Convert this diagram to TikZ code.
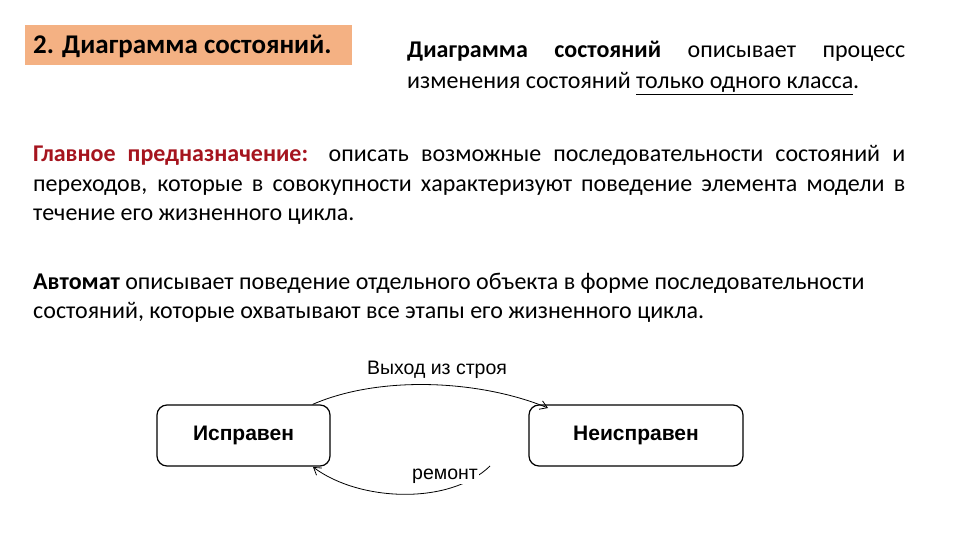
\documentclass[tikz,border=0pt]{standalone}
\usepackage{fontspec}
\setmainfont{Carlito}
\newfontfamily\arialf{Liberation Sans}
\usetikzlibrary{arrows.meta}
\definecolor{peach}{HTML}{F4B183}
\definecolor{dred}{HTML}{A5141E}
\begin{document}
\begin{tikzpicture}[x=1pt,y=-1pt,
  txt/.style={anchor=base west,inner sep=0pt,font=\fontsize{24}{29}\selectfont},
  state/.style={draw,rounded corners=10pt,line width=1.2pt,font=\arialf\bfseries\fontsize{21}{24}\selectfont},
  lbl/.style={font=\arialf\fontsize{19.5}{22}\selectfont,inner sep=1pt},
  arr/.style={line width=0.8pt,-{Straight Barb[length=7pt,width=9pt]}}]
\useasboundingbox (0,0) rectangle (960,540);
\node[fill=peach,anchor=north west,minimum width=327pt,minimum height=40pt,inner sep=0pt] (title) at (25,25) {};
\node[anchor=base west,inner sep=0pt,font=\bfseries\fontsize{27}{30}\selectfont] (tt) at (33,54) {2. Диаграмма состояний.};
\node[txt] (h1) at (407,58) {\makebox[498pt][s]{\textbf{Диаграмма состояний} описывает процесс}};
\node[txt] (h2) at (407,89) {изменения состояний \underline{только одного класса}.};
\node[txt] (p1a) at (33,162) {\makebox[872pt][s]{\textcolor{dred}{\textbf{Главное предназначение:}} описать возможные последовательности состояний и}};
\node[txt] (p1b) at (33,191) {\makebox[872pt][s]{переходов, которые в совокупности характеризуют поведение элемента модели в}};
\node[txt] (p1c) at (33,220) {течение его жизненного цикла.};
\node[txt] (p2a) at (33,289) {\textbf{Автомат} описывает поведение отдельного объекта в форме последовательности};
\node[txt] (p2b) at (33,318) {состояний, которые охватывают все этапы его жизненного цикла.};
\node[state,minimum width=173pt,minimum height=61pt] (a) at (243.5,435.5) {Исправен};
\node[state,minimum width=214pt,minimum height=61pt] (b) at (636,435.5) {Неисправен};
\draw[arr] (a.north east)++(-18,0) coordinate (s1) .. controls (380,375) and (480,380) .. (548,408) coordinate (e1);
\draw[arr] (490,466) coordinate (s2) .. controls (450,505) and (360,502) .. (313,467) coordinate (e2);
\node[lbl,fill=white] (l1) at (437,370) {Выход из строя};
\node[lbl,fill=white] (l2) at (445,476) {ремонт};
\end{tikzpicture}
\end{document}
